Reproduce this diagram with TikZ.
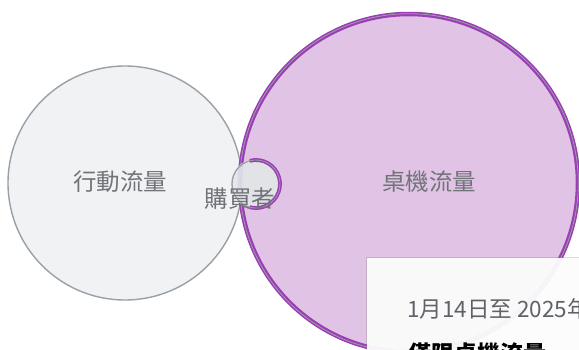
\documentclass[tikz,border=0pt]{standalone}
\usepackage{fontspec}
\newfontfamily\cjk{Noto Sans CJK TC}
\usetikzlibrary{positioning,shadows}
\definecolor{mobilefill}{HTML}{F1F2F3}
\definecolor{venngray}{HTML}{9AA0A6}
\definecolor{desktopfill}{HTML}{E0C3E5}
\definecolor{vennpurple}{HTML}{9B3DB5}
\definecolor{buyerfill}{HTML}{E3E7E8}
\definecolor{labelgray}{HTML}{707478}
\definecolor{tipgray}{HTML}{5F6368}
\tikzset{
    set/.style = {
        circle,
        inner sep = 0pt,
        outer sep = 0pt,
        },
    set mobile/.style = {
        set,
        draw = venngray,
        fill = mobilefill,
        line width = 1.4pt,
        minimum size = 234pt,
        },
    set desktop/.style = {
        set,
        fill = desktopfill,
        minimum size = 342pt,
        },
    set buyer/.style = {
        set,
        fill = buyerfill,
        fill opacity = 0.9,
        minimum size = 50pt,
        },
    set label/.style = {
        font = \cjk\fontsize{23.5}{26}\selectfont,
        text = labelgray,
        inner sep = 0pt,
        },
    tip/.style = {
        fill = white,
        fill opacity = 0.93,
        drop shadow = {opacity = 0.3, shadow xshift = -1.2pt, shadow yshift = 1pt},
        },
    tip text/.style = {
        font = \cjk\fontsize{22.5}{26}\selectfont,
        anchor = west,
        inner sep = 0pt,
        },
}
\begin{document}
\begin{tikzpicture}[x=1pt, y=-1pt]
    \useasboundingbox (0,0) rectangle (579,350);
    \clip (0,0) rectangle (579,350);

    \node[set mobile] (mobile) at (125,183) {};
    \node[set desktop] (desktop) at (409,183) {};
    \draw[vennpurple, line width=4.5pt] (desktop) circle (169pt);
    \draw[venngray, line width=0.8pt] (desktop) circle (169.3pt);

    \node[set buyer] (buyer) at (256,184) {};
    \draw[venngray, line width=1.3pt] (buyer) circle (24pt);
    \draw[vennpurple, line width=3.8pt] ([shift={(105:24pt)}]buyer.center) arc[start angle=105, end angle=-105, radius=24pt];
    \draw[venngray, line width=0.8pt] ([shift={(105:24pt)}]buyer.center) arc[start angle=105, end angle=-105, radius=24pt];

    \node[set label] (mobile label) at (120,182) {行動流量};
    \node[set label] (desktop label) at (429,182) {桌機流量};
    \node[set label] (buyer label) at (240,199) {購買者};

    \node[tip, minimum width=260pt, minimum height=120pt, anchor=north west, inner sep=0pt] (tooltip) at (367,258) {};
    \node[tip text, text=tipgray] (tip date) at (407,309) {1月14日至 2025年};
    \node[tip text, text=black, font=\cjk\bfseries\fontsize{23}{26}\selectfont] (tip title) at (408,354) {僅限桌機流量};
\end{tikzpicture}
\end{document}
